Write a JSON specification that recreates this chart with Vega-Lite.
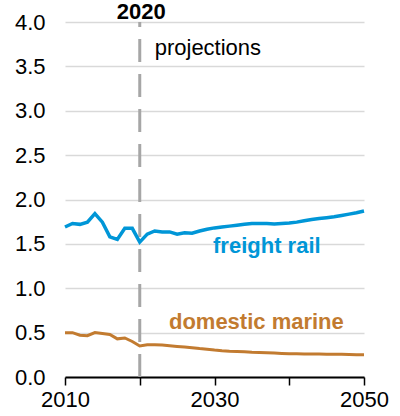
{
  "$schema": "https://vega.github.io/schema/vega-lite/v6.json",
  "width": 299,
  "height": 355,
  "autosize": {"type": "none"},
  "padding": {"left": 65, "top": 22, "right": 36, "bottom": 39},
  "background": "white",
  "config": {"view": {"stroke": null}, "font": "Liberation Sans"},
  "datasets": {
    "series": [
      {"year": 2010, "value": 1.69, "series": "freight rail"},
      {"year": 2011, "value": 1.73, "series": "freight rail"},
      {"year": 2012, "value": 1.72, "series": "freight rail"},
      {"year": 2013, "value": 1.745, "series": "freight rail"},
      {"year": 2014, "value": 1.84, "series": "freight rail"},
      {"year": 2015, "value": 1.745, "series": "freight rail"},
      {"year": 2016, "value": 1.58, "series": "freight rail"},
      {"year": 2017, "value": 1.55, "series": "freight rail"},
      {"year": 2018, "value": 1.675, "series": "freight rail"},
      {"year": 2019, "value": 1.675, "series": "freight rail"},
      {"year": 2020, "value": 1.52, "series": "freight rail"},
      {"year": 2021, "value": 1.61, "series": "freight rail"},
      {"year": 2022, "value": 1.645, "series": "freight rail"},
      {"year": 2023, "value": 1.635, "series": "freight rail"},
      {"year": 2024, "value": 1.635, "series": "freight rail"},
      {"year": 2025, "value": 1.61, "series": "freight rail"},
      {"year": 2026, "value": 1.625, "series": "freight rail"},
      {"year": 2027, "value": 1.62, "series": "freight rail"},
      {"year": 2028, "value": 1.645, "series": "freight rail"},
      {"year": 2029, "value": 1.665, "series": "freight rail"},
      {"year": 2030, "value": 1.68, "series": "freight rail"},
      {"year": 2031, "value": 1.69, "series": "freight rail"},
      {"year": 2032, "value": 1.70, "series": "freight rail"},
      {"year": 2033, "value": 1.71, "series": "freight rail"},
      {"year": 2034, "value": 1.72, "series": "freight rail"},
      {"year": 2035, "value": 1.73, "series": "freight rail"},
      {"year": 2036, "value": 1.73, "series": "freight rail"},
      {"year": 2037, "value": 1.73, "series": "freight rail"},
      {"year": 2038, "value": 1.725, "series": "freight rail"},
      {"year": 2039, "value": 1.73, "series": "freight rail"},
      {"year": 2040, "value": 1.735, "series": "freight rail"},
      {"year": 2041, "value": 1.745, "series": "freight rail"},
      {"year": 2042, "value": 1.76, "series": "freight rail"},
      {"year": 2043, "value": 1.775, "series": "freight rail"},
      {"year": 2044, "value": 1.785, "series": "freight rail"},
      {"year": 2045, "value": 1.795, "series": "freight rail"},
      {"year": 2046, "value": 1.805, "series": "freight rail"},
      {"year": 2047, "value": 1.82, "series": "freight rail"},
      {"year": 2048, "value": 1.835, "series": "freight rail"},
      {"year": 2049, "value": 1.85, "series": "freight rail"},
      {"year": 2050, "value": 1.87, "series": "freight rail"},
      {"year": 2010, "value": 0.50, "series": "domestic marine"},
      {"year": 2011, "value": 0.50, "series": "domestic marine"},
      {"year": 2012, "value": 0.47, "series": "domestic marine"},
      {"year": 2013, "value": 0.465, "series": "domestic marine"},
      {"year": 2014, "value": 0.50, "series": "domestic marine"},
      {"year": 2015, "value": 0.49, "series": "domestic marine"},
      {"year": 2016, "value": 0.48, "series": "domestic marine"},
      {"year": 2017, "value": 0.43, "series": "domestic marine"},
      {"year": 2018, "value": 0.44, "series": "domestic marine"},
      {"year": 2019, "value": 0.40, "series": "domestic marine"},
      {"year": 2020, "value": 0.35, "series": "domestic marine"},
      {"year": 2021, "value": 0.363, "series": "domestic marine"},
      {"year": 2022, "value": 0.363, "series": "domestic marine"},
      {"year": 2023, "value": 0.36, "series": "domestic marine"},
      {"year": 2024, "value": 0.352, "series": "domestic marine"},
      {"year": 2025, "value": 0.345, "series": "domestic marine"},
      {"year": 2026, "value": 0.338, "series": "domestic marine"},
      {"year": 2027, "value": 0.33, "series": "domestic marine"},
      {"year": 2028, "value": 0.32, "series": "domestic marine"},
      {"year": 2029, "value": 0.312, "series": "domestic marine"},
      {"year": 2030, "value": 0.303, "series": "domestic marine"},
      {"year": 2031, "value": 0.296, "series": "domestic marine"},
      {"year": 2032, "value": 0.291, "series": "domestic marine"},
      {"year": 2033, "value": 0.288, "series": "domestic marine"},
      {"year": 2034, "value": 0.285, "series": "domestic marine"},
      {"year": 2035, "value": 0.28, "series": "domestic marine"},
      {"year": 2036, "value": 0.277, "series": "domestic marine"},
      {"year": 2037, "value": 0.273, "series": "domestic marine"},
      {"year": 2038, "value": 0.27, "series": "domestic marine"},
      {"year": 2039, "value": 0.266, "series": "domestic marine"},
      {"year": 2040, "value": 0.263, "series": "domestic marine"},
      {"year": 2041, "value": 0.262, "series": "domestic marine"},
      {"year": 2042, "value": 0.26, "series": "domestic marine"},
      {"year": 2043, "value": 0.259, "series": "domestic marine"},
      {"year": 2044, "value": 0.258, "series": "domestic marine"},
      {"year": 2045, "value": 0.257, "series": "domestic marine"},
      {"year": 2046, "value": 0.256, "series": "domestic marine"},
      {"year": 2047, "value": 0.255, "series": "domestic marine"},
      {"year": 2048, "value": 0.254, "series": "domestic marine"},
      {"year": 2049, "value": 0.252, "series": "domestic marine"},
      {"year": 2050, "value": 0.25, "series": "domestic marine"}
    ]
  },
  "layer": [
    {
      "data": {"values": [{"year": 2020, "y0": 0, "y1": 4}]},
      "mark": {"type": "rule", "color": "#A6A6A6", "strokeWidth": 3, "strokeDash": [23, 12]},
      "encoding": {
        "x": {
          "field": "year", "type": "quantitative",
          "scale": {"domain": [2010, 2050], "nice": false, "zero": false},
          "axis": {
            "title": null, "grid": false,
            "values": [2010, 2015, 2020, 2025, 2030, 2035, 2040, 2045, 2050],
            "format": "d",
            "labelExpr": "datum.value % 20 == 10 ? datum.label : ''",
            "labelFlush": false, "labelOverlap": false,
            "domainColor": "black", "domainWidth": 2,
            "tickColor": "black", "tickWidth": 1.5, "tickSize": 8,
            "labelFontSize": 22, "labelColor": "black", "labelPadding": 4,
            "labelFont": "Liberation Sans"
          }
        },
        "y": {
          "field": "y0", "type": "quantitative",
          "scale": {"domain": [0, 4], "nice": false},
          "axis": {
            "title": null, "grid": true, "gridColor": "#D9D9D9", "gridWidth": 1.5,
            "values": [0, 0.5, 1, 1.5, 2, 2.5, 3, 3.5, 4],
            "format": ".1f", "domain": false, "ticks": false,
            "labelPadding": 20, "labelFontSize": 22, "labelColor": "black",
            "labelFont": "Liberation Sans", "labelFlush": false
          }
        },
        "y2": {"field": "y1"}
      }
    },
    {
      "data": {"name": "series"},
      "transform": [{"filter": "datum.series == 'domestic marine'"}],
      "mark": {"type": "line", "color": "#C27B30", "strokeWidth": 3},
      "encoding": {
        "x": {"field": "year", "type": "quantitative"},
        "y": {"field": "value", "type": "quantitative"}
      }
    },
    {
      "data": {"name": "series"},
      "transform": [{"filter": "datum.series == 'freight rail'"}],
      "mark": {"type": "line", "color": "#0096D7", "strokeWidth": 3.5},
      "encoding": {
        "x": {"field": "year", "type": "quantitative"},
        "y": {"field": "value", "type": "quantitative"}
      }
    },
    {
      "data": {"values": [
        {"year": 2037.0, "value": 1.395, "label": "freight rail"}
      ]},
      "mark": {"type": "text", "color": "#0096D7", "fontSize": 22, "fontWeight": "bold", "align": "center", "baseline": "alphabetic"},
      "encoding": {
        "x": {"field": "year", "type": "quantitative"},
        "y": {"field": "value", "type": "quantitative"},
        "text": {"field": "label"}
      }
    },
    {
      "data": {"values": [
        {"year": 2035.6, "value": 0.538, "label": "domestic marine"}
      ]},
      "mark": {"type": "text", "color": "#C27B30", "fontSize": 22, "fontWeight": "bold", "align": "center", "baseline": "alphabetic"},
      "encoding": {
        "x": {"field": "year", "type": "quantitative"},
        "y": {"field": "value", "type": "quantitative"},
        "text": {"field": "label"}
      }
    },
    {
      "data": {"values": [
        {"year": 2020.2, "value": 4.035, "label": "2020"}
      ]},
      "mark": {"type": "text", "color": "black", "fontSize": 22, "fontWeight": "bold", "align": "center", "baseline": "alphabetic"},
      "encoding": {
        "x": {"field": "year", "type": "quantitative"},
        "y": {"field": "value", "type": "quantitative"},
        "text": {"field": "label"}
      }
    },
    {
      "data": {"values": [
        {"year": 2022.0, "value": 3.627, "label": "projections"}
      ]},
      "mark": {"type": "text", "color": "black", "fontSize": 22, "align": "left", "baseline": "alphabetic"},
      "encoding": {
        "x": {"field": "year", "type": "quantitative"},
        "y": {"field": "value", "type": "quantitative"},
        "text": {"field": "label"}
      }
    }
  ]
}
